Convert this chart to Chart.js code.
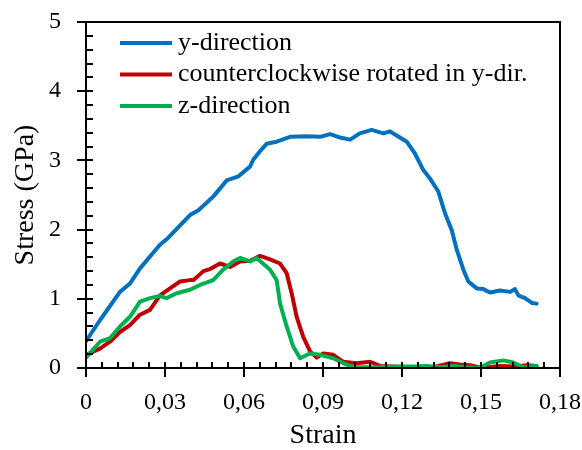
<!DOCTYPE html>
<html>
<head>
<meta charset="utf-8">
<script src="https://cdn.jsdelivr.net/npm/chart.js@4.4.1/dist/chart.umd.min.js"></script>
<style>
  body { margin: 0; background: #fff; }
  #wrap { width: 582px; height: 450px; }
</style>
</head>
<body>
<div id="wrap"><canvas id="stressChart"></canvas></div>
<script>
// y-direction
var yDirStrain = [0, 0.0053, 0.0129, 0.0167, 0.0205, 0.0281, 0.0306, 0.0395, 0.0427, 0.0484, 0.0534, 0.0579, 0.0623, 0.0635, 0.0660, 0.0686, 0.0724, 0.0775, 0.0838, 0.0889, 0.0927, 0.0965, 0.1003, 0.1040, 0.1085, 0.1129, 0.1154, 0.1192, 0.1218, 0.1249, 0.1281, 0.1306, 0.1338, 0.1363, 0.1389, 0.1408, 0.1433, 0.1452, 0.1484, 0.1509, 0.1534, 0.1572, 0.1610, 0.1629, 0.1642, 0.1667, 0.1693, 0.1711];
var yDirStress = [0.39, 0.69, 1.10, 1.22, 1.44, 1.78, 1.86, 2.21, 2.28, 2.48, 2.71, 2.77, 2.91, 3.01, 3.13, 3.24, 3.27, 3.34, 3.35, 3.34, 3.38, 3.33, 3.30, 3.39, 3.44, 3.39, 3.42, 3.33, 3.27, 3.10, 2.86, 2.74, 2.55, 2.24, 1.99, 1.71, 1.42, 1.25, 1.15, 1.14, 1.09, 1.12, 1.10, 1.14, 1.05, 1.01, 0.94, 0.93];

// counterclockwise rotated in y-dir.
var rotStrain = [0, 0.0053, 0.0091, 0.0129, 0.0167, 0.0205, 0.0243, 0.0281, 0.0319, 0.0357, 0.0395, 0.0408, 0.0446, 0.0471, 0.0509, 0.0547, 0.0585, 0.0623, 0.0661, 0.0699, 0.0737, 0.0762, 0.0781, 0.0800, 0.0825, 0.0851, 0.0876, 0.0901, 0.0939, 0.0977, 0.1028, 0.1079, 0.1117, 0.1167, 0.1230, 0.1319, 0.1382, 0.1420, 0.1458, 0.1503, 0.1572, 0.1623, 0.1674, 0.1711];
var rotStress = [0.19, 0.28, 0.38, 0.52, 0.62, 0.77, 0.84, 1.05, 1.15, 1.25, 1.27, 1.27, 1.40, 1.43, 1.51, 1.46, 1.54, 1.55, 1.62, 1.57, 1.51, 1.37, 1.08, 0.74, 0.45, 0.24, 0.15, 0.21, 0.19, 0.09, 0.07, 0.09, 0.03, 0.02, 0.01, 0.01, 0.07, 0.05, 0.04, 0.00, 0.03, 0.02, 0.04, 0.03];

// z-direction
var zDirStrain = [0, 0.0053, 0.0091, 0.0129, 0.0167, 0.0205, 0.0243, 0.0281, 0.0306, 0.0344, 0.0395, 0.0433, 0.0483, 0.0521, 0.0559, 0.0585, 0.0623, 0.0648, 0.0699, 0.0724, 0.0737, 0.0762, 0.0787, 0.0813, 0.0850, 0.0889, 0.0939, 0.0977, 0.1015, 0.1099, 0.1192, 0.1243, 0.1294, 0.1345, 0.1395, 0.1446, 0.1496, 0.1534, 0.1585, 0.1623, 0.1661, 0.1711];
var zDirStress = [0.15, 0.38, 0.43, 0.60, 0.74, 0.96, 1.01, 1.04, 1.01, 1.08, 1.13, 1.20, 1.27, 1.42, 1.54, 1.59, 1.54, 1.59, 1.42, 1.27, 0.93, 0.60, 0.31, 0.14, 0.21, 0.19, 0.14, 0.07, 0.01, 0.01, 0.02, 0.02, 0.03, 0.01, 0.03, 0.01, 0.00, 0.08, 0.11, 0.08, 0.01, 0.03];

var seriesNames = ['y-direction', 'counterclockwise rotated in y-dir.', 'z-direction'];
var seriesColors = ['#0070C0', '#C00000', '#00B050'];

var fontFamily = '"Liberation Serif", "DejaVu Serif", serif';

function toPoints(xs, ys) {
   var pts = [];
   for (var i = 0; i < xs.length; i++) {
      pts.push({ x: xs[i], y: ys[i] });
   }
   return pts;
}

// frame + tick marks (major crossing the axis, minor inside)
var axisTicks = {
   id: 'axisTicks',
   afterDraw: function(chart) {
      var ctx = chart.ctx;
      var a = chart.chartArea;
      var xs = chart.scales.x;
      var ys = chart.scales.y;
      ctx.save();
      ctx.strokeStyle = '#000';
      ctx.lineWidth = 2;
      ctx.strokeRect(a.left, a.top, a.right - a.left, a.bottom - a.top);
      ctx.beginPath();
      for (var i = 0; i <= 25; i++) {
         var py = Math.round(ys.getPixelForValue(i * 0.2));
         var major = i % 5 === 0;
         ctx.moveTo(a.left - (major ? 9 : 0), py);
         ctx.lineTo(a.left + 7, py);
      }
      for (var j = 0; j <= 30; j++) {
         var px = Math.round(xs.getPixelForValue(j * 0.006));
         var majorX = j % 5 === 0;
         ctx.moveTo(px, a.bottom + (majorX ? 9 : 0));
         ctx.lineTo(px, a.bottom - 6);
      }
      ctx.stroke();
      ctx.restore();
   }
};

// legend drawn inside the plot, top left
var innerLegend = {
   id: 'innerLegend',
   afterDraw: function(chart) {
      var ctx = chart.ctx;
      var a = chart.chartArea;
      ctx.save();
      ctx.font = '26px ' + fontFamily;
      ctx.textBaseline = 'middle';
      ctx.fillStyle = '#000';
      chart.data.datasets.forEach(function(ds, i) {
         var y = a.top + 21 + i * 31.5;
         ctx.strokeStyle = ds.borderColor;
         ctx.lineWidth = 4;
         ctx.beginPath();
         ctx.moveTo(a.left + 34, y);
         ctx.lineTo(a.left + 86, y);
         ctx.stroke();
         ctx.fillText(ds.label, a.left + 92, y);
      });
      ctx.restore();
   }
};

var ctx = document.getElementById('stressChart');

var stressChart = new Chart(ctx, {
   type: 'line',
   data: {
      datasets: [{
         label: seriesNames[0],
         data: toPoints(yDirStrain, yDirStress),
         borderColor: seriesColors[0],
         order: 2
      }, {
         label: seriesNames[1],
         data: toPoints(rotStrain, rotStress),
         borderColor: seriesColors[1],
         order: 1
      }, {
         label: seriesNames[2],
         data: toPoints(zDirStrain, zDirStress),
         borderColor: seriesColors[2],
         order: 0
      }]
   },
   options: {
      responsive: true,
      maintainAspectRatio: false,
      animation: false,
      layout: { padding: { top: 22, right: 22, left: 0, bottom: 0 } },
      elements: {
         line: { borderWidth: 4, tension: 0, borderCapStyle: 'round', borderJoinStyle: 'round' },
         point: { radius: 0 }
      },
      plugins: {
         legend: { display: false },
         tooltip: { enabled: false }
      },
      scales: {
         x: {
            type: 'linear',
            min: 0,
            max: 0.18,
            grid: { display: false, drawTicks: false },
            border: { display: false },
            ticks: {
               stepSize: 0.03,
               padding: 20,
               color: '#000',
               font: { family: fontFamily, size: 24 },
               maxRotation: 0,
               callback: function(value) {
                  if (Math.abs(value) < 1e-9) return '0';
                  return value.toFixed(2).replace('.', ',');
               }
            },
            title: {
               display: true,
               text: 'Strain',
               color: '#000',
               font: { family: fontFamily, size: 28, lineHeight: 1 },
               padding: { top: 0, bottom: 0 }
            },
            afterFit: function(scale) {
               scale.height = 82;
               scale.paddingLeft = 0;
               scale.paddingRight = 0;
            }
         },
         y: {
            min: 0,
            max: 5,
            grid: { display: false, drawTicks: false },
            border: { display: false },
            ticks: {
               stepSize: 1,
               padding: 25,
               color: '#000',
               font: { family: fontFamily, size: 24 }
            },
            title: {
               display: true,
               text: 'Stress (GPa)',
               color: '#000',
               font: { family: fontFamily, size: 28, lineHeight: 1 },
               padding: { top: 12, bottom: 0 }
            },
            afterFit: function(scale) {
               scale.width = 86;
               scale.paddingTop = 0;
               scale.paddingBottom = 0;
            }
         }
      }
   },
   plugins: [axisTicks, innerLegend]
});
</script>
</body>
</html>
